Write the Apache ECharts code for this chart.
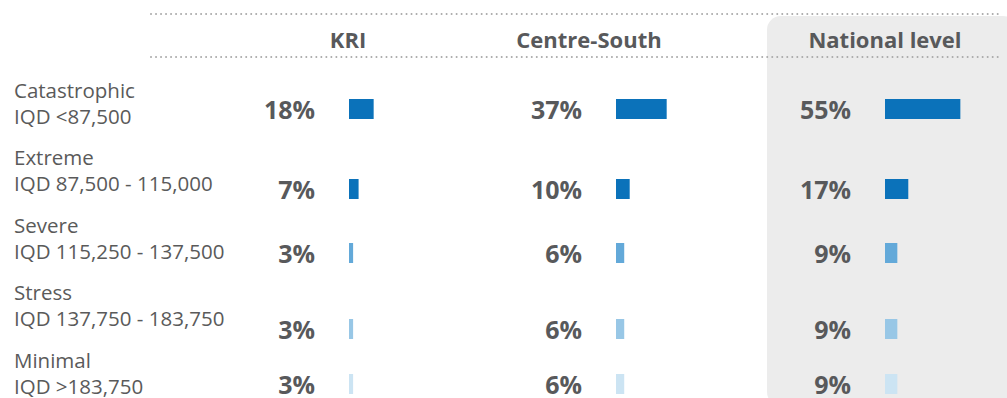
<!DOCTYPE html>
<html>
<head>
<meta charset="utf-8">
<style>
  html, body { margin: 0; padding: 0; background: #ffffff; }
  #chart { width: 1007px; height: 398px; }
</style>
<script src="https://cdn.jsdelivr.net/npm/echarts@6/dist/echarts.min.js"></script>
</head>
<body>
<div id="chart"></div>
<script>
// Poverty bands by monthly consumption and the share of households in each
const bandNames = ['Catastrophic', 'Extreme', 'Severe', 'Stress', 'Minimal'];
const bandRanges = ['IQD <87,500', 'IQD 87,500 - 115,000', 'IQD 115,250 - 137,500',
                    'IQD 137,750 - 183,750', 'IQD >183,750'];
const regions = ['KRI', 'Centre-South', 'National level'];
const kri = [18, 7, 3, 3, 3];
const centreSouth = [37, 10, 6, 6, 6];
const national = [55, 17, 9, 9, 9];
const regionValues = [kri, centreSouth, national];

// Layout
const TEXT = '#58595b';
const FONT = '"Open Sans", "Noto Sans", sans-serif';
const bandColors = ['#0b72ba', '#0b72ba', '#63a9d9', '#98c7e6', '#cce4f3'];
const colLeft = [349, 616, 885];      // bar start of each column
const colCenter = [348, 589, 885];    // header centre of each column
const barTop = [99, 179, 243, 319, 374];
const barH = 20;
const axisMax = 80;                   // percent shown across one grid
const gridWidth = 109.6;              // 1.37 px per percent
const labelTop = 102.5, labelStep = 67.6;

const grids = [], xAxes = [], yAxes = [], series = [];
regionValues.forEach((vals, c) => {
  vals.forEach((v, r) => {
    const i = grids.length;
    grids.push({ left: colLeft[c], top: barTop[r], width: gridWidth, height: barH });
    xAxes.push({ type: 'value', gridIndex: i, min: 0, max: axisMax, show: false });
    yAxes.push({ type: 'category', gridIndex: i, data: [bandNames[r]], show: false });
    series.push({
      type: 'bar', xAxisIndex: i, yAxisIndex: i,
      barWidth: barH, silent: true,
      itemStyle: { color: bandColors[r] },
      label: {
        show: true, position: 'left', distance: 34,
        formatter: '{c}%', color: TEXT, fontFamily: FONT,
        fontSize: 25, fontWeight: 'bold'
      },
      data: [v]
    });
  });
});

const graphic = [
  { type: 'rect', z: 0, shape: { x: 767, y: 16, width: 250, height: 390, r: 14 },
    style: { fill: '#ececec' } }
];
[14, 57].forEach(y => graphic.push({
  type: 'line', z: 1, shape: { x1: 151, y1: y, x2: 1001, y2: y },
  style: { stroke: '#a9a9a9', lineWidth: 2, lineDash: [0.01, 5], lineCap: 'round' }
}));
regions.forEach((name, c) => graphic.push({
  type: 'text', z: 2, x: colCenter[c], y: 39,
  style: { text: name, fill: TEXT, font: 'bold 22px ' + FONT, align: 'center', verticalAlign: 'middle' }
}));
bandNames.forEach((name, r) => graphic.push({
  type: 'text', z: 2, x: 14, y: labelTop + labelStep * r,
  style: { text: name + '\n' + bandRanges[r], fill: '#5a5a5a', font: '20.5px ' + FONT,
           lineHeight: 26, align: 'left', verticalAlign: 'middle' }
}));

const chart = echarts.init(document.getElementById('chart'), null, { renderer: 'svg' });
chart.setOption({
  animation: false,
  grid: grids, xAxis: xAxes, yAxis: yAxes, series: series,
  graphic: graphic
});
</script>
</body>
</html>
